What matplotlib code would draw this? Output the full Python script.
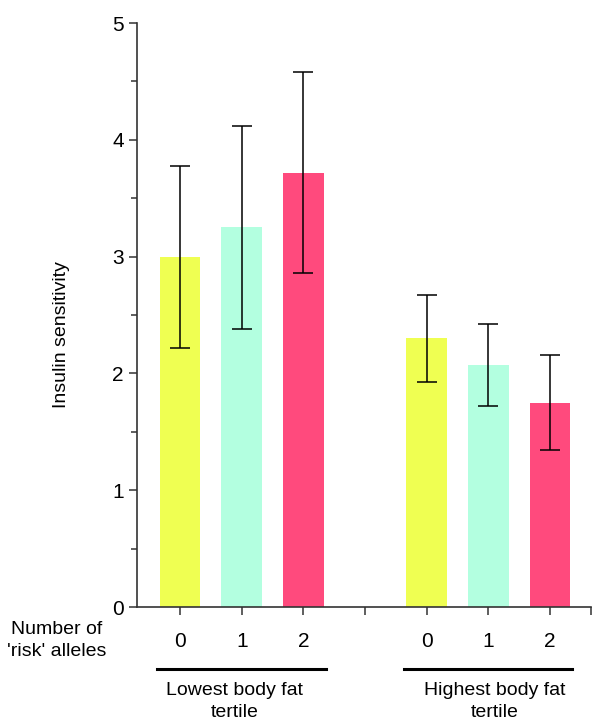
import numpy as np
import matplotlib.pyplot as plt

plt.rcParams['font.family'] = ['Liberation Sans', 'DejaVu Sans']

alleles = ['0', '1', '2']
groups = ['Lowest body fat\ntertile', 'Highest body fat\ntertile']
low_means = [3.00, 3.25, 3.72]
low_err = [0.78, 0.87, 0.86]
high_means = [2.30, 2.07, 1.75]
high_err = [0.37, 0.35, 0.41]
colors = ['#EFFF52', '#B3FFE0', '#FF4A7D']

fig = plt.figure(figsize=(6, 7.28), dpi=100)
ax = fig.add_axes([0.2283, 0.1662, 0.757, 0.8022])

x_low = np.array([1, 2, 3])
x_high = np.array([5, 6, 7])
ax.bar(x_low, low_means, width=0.66, color=colors)
ax.bar(x_high, high_means, width=0.66, color=colors)
ax.errorbar(x_low, low_means, yerr=low_err, fmt='none', ecolor='black', elinewidth=1.1, capsize=7.5, capthick=1.1)
ax.errorbar(x_high, high_means, yerr=high_err, fmt='none', ecolor='black', elinewidth=1.1, capsize=7.5, capthick=1.1)

ax.set_xlim(0.30, 7.67)
ax.set_ylim(0, 5)
ax.set_yticks([0, 1, 2, 3, 4, 5])
ax.set_yticks(np.arange(0.5, 5, 1), minor=True)
ax.set_xticks([1, 2, 3, 4, 5, 6, 7, 7.67])
ax.set_xticklabels(alleles + [''] + alleles + [''])
for s in ['top', 'right']:
    ax.spines[s].set_visible(False)
for s in ['left', 'bottom']:
    ax.spines[s].set_color('#333333')
    ax.spines[s].set_linewidth(1.2)
ax.tick_params(axis='both', which='major', length=6, width=1.1, color='#333333', labelsize=15)
ax.tick_params(axis='y', which='minor', length=4, width=1.1, color='#333333')
ax.tick_params(axis='x', pad=12)

fig.text(0.103, 0.541, 'Insulin sensitivity', rotation=90, ha='center', va='center', fontsize=14)
fig.text(0.095, 0.120, "Number of\n'risk' alleles", ha='center', va='center', fontsize=14, linespacing=1.42)

# group underlines and labels
for xs, label, shift in zip([x_low, x_high], groups, [-0.11, 0.1]):
    ax.plot([xs[0] - 0.37, xs[-1] + 0.36], [-0.531, -0.531], color='black', lw=2.2, clip_on=False)
    ax.text(xs[1] + shift, -0.64, label, ha='center', va='top', fontsize=14, linespacing=1.42)

plt.savefig('out.png', dpi=100)
